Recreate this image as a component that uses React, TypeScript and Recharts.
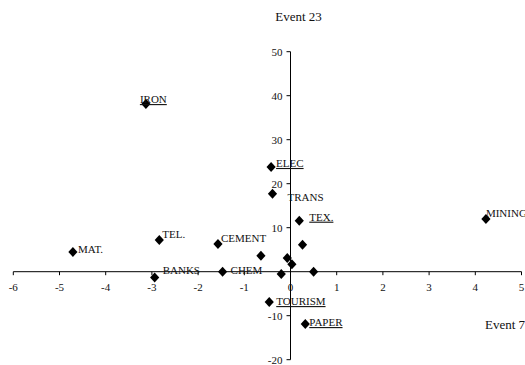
import {
  ScatterChart,
  Scatter,
  XAxis,
  YAxis,
  ReferenceLine,
  ReferenceDot,
} from "recharts";

// sectors (empty name = unlabelled point)
const names = [
  "IRON",
  "ELEC",
  "TRANS",
  "TEX.",
  "MINING",
  "CEMENT",
  "TEL.",
  "MAT.",
  "BANKS",
  "CHEM",
  "TOURISM",
  "PAPER",
  "",
  "",
  "",
  "",
  "",
  "",
];
const event7 = [
  -3.13, -0.42, -0.39, 0.19, 4.23, -1.57, -2.84, -4.71, -2.94, -1.47, -0.46,
  0.32, 0.26, -0.64, -0.07, 0.03, -0.2, 0.5,
];
const event23 = [
  38.1, 23.8, 17.7, 11.6, 12.0, 6.3, 7.2, 4.5, -1.3, 0.0, -6.9, -11.9, 6.1,
  3.6, 3.1, 1.7, -0.5, 0.0,
];

const xTicks = [-6, -5, -4, -3, -2, -1, 0, 1, 2, 3, 4, 5];
const yTicks = [50, 40, 30, 20, 10, -10, -20];

// label placement relative to the marker (layout only)
const labelPos: Record<string, { dx: number; dy: number }> = {
  IRON: { dx: -6, dy: -1 },
  ELEC: { dx: 5, dy: 0 },
  TRANS: { dx: 15, dy: 7 },
  "TEX.": { dx: 10, dy: 0 },
  MINING: { dx: 0, dy: -2 },
  CEMENT: { dx: 3, dy: -2 },
  "TEL.": { dx: 3, dy: -2 },
  "MAT.": { dx: 5, dy: 1 },
  BANKS: { dx: 8, dy: -3 },
  CHEM: { dx: 8, dy: 2 },
  TOURISM: { dx: 7, dy: 3 },
  PAPER: { dx: 4, dy: 2 },
};
const underlined = ["IRON", "ELEC", "TEX.", "TOURISM", "PAPER"];

const font = "'Liberation Serif', 'Times New Roman', serif";

const data = names.map((name, i) => ({ name, x: event7[i], y: event23[i] }));

const Diamond = (props: any) => {
  const { cx, cy, payload } = props;
  const name = payload?.name;
  const pos = labelPos[name];
  return (
    <g>
      <polygon
        points={`${cx},${cy - 5} ${cx + 4.6},${cy} ${cx},${cy + 5} ${cx - 4.6},${cy}`}
        fill="#000"
      />
      {name && pos ? (
        <text
          x={cx + pos.dx}
          y={cy + pos.dy}
          fontFamily={font}
          fontSize={11}
          fill="#111"
          textDecoration={underlined.includes(name) ? "underline" : undefined}
        >
          {name}
        </text>
      ) : null}
    </g>
  );
};

const XTick = (props: any) => {
  const { cx, cy, value } = props;
  return (
    <g>
      <line x1={cx} y1={cy} x2={cx} y2={cy + 3.5} stroke="#000" />
      <text
        x={cx}
        y={cy + 19}
        textAnchor="middle"
        fontFamily={font}
        fontSize={11}
        fill="#111"
      >
        {value}
      </text>
    </g>
  );
};

const YTick = (props: any) => {
  const { cx, cy, value } = props;
  return (
    <g>
      <line x1={cx - 4} y1={cy} x2={cx} y2={cy} stroke="#000" />
      <text
        x={cx - 8}
        y={cy + 3.8}
        textAnchor="end"
        fontFamily={font}
        fontSize={11}
        fill="#111"
      >
        {value}
      </text>
    </g>
  );
};

export default function App() {
  return (
    <div
      style={{
        position: "absolute",
        left: 0,
        top: 0,
        width: 525,
        height: 365,
        background: "#fff",
        overflow: "hidden",
      }}
    >
      <ScatterChart
        width={525}
        height={365}
        margin={{ top: 51.7, right: 3.5, bottom: 5.3, left: 13.3 }}
      >
        <XAxis type="number" dataKey="x" domain={[-6, 5]} hide />
        <YAxis type="number" dataKey="y" domain={[-20, 50]} hide />
        <ReferenceLine y={0} stroke="#000" strokeWidth={1} />
        <ReferenceLine x={0} stroke="#000" strokeWidth={1} />
        {xTicks.map((t) => (
          <ReferenceDot
            key={`x${t}`}
            x={t}
            y={0}
            ifOverflow="visible"
            shape={(p: any) => <XTick {...p} value={t} />}
          />
        ))}
        {yTicks.map((t) => (
          <ReferenceDot
            key={`y${t}`}
            x={0}
            y={t}
            ifOverflow="visible"
            shape={(p: any) => <YTick {...p} value={t} />}
          />
        ))}
        <Scatter data={data} shape={Diamond} isAnimationActive={false} />
      </ScatterChart>
      <svg
        width={525}
        height={365}
        style={{ position: "absolute", left: 0, top: 0, pointerEvents: "none" }}
      >
        <text
          x={298.5}
          y={21}
          textAnchor="middle"
          fontFamily={font}
          fontSize={13}
          fill="#111"
        >
          Event 23
        </text>
        <text x={485} y={329} fontFamily={font} fontSize={13} fill="#111">
          Event 7
        </text>
      </svg>
    </div>
  );
}
